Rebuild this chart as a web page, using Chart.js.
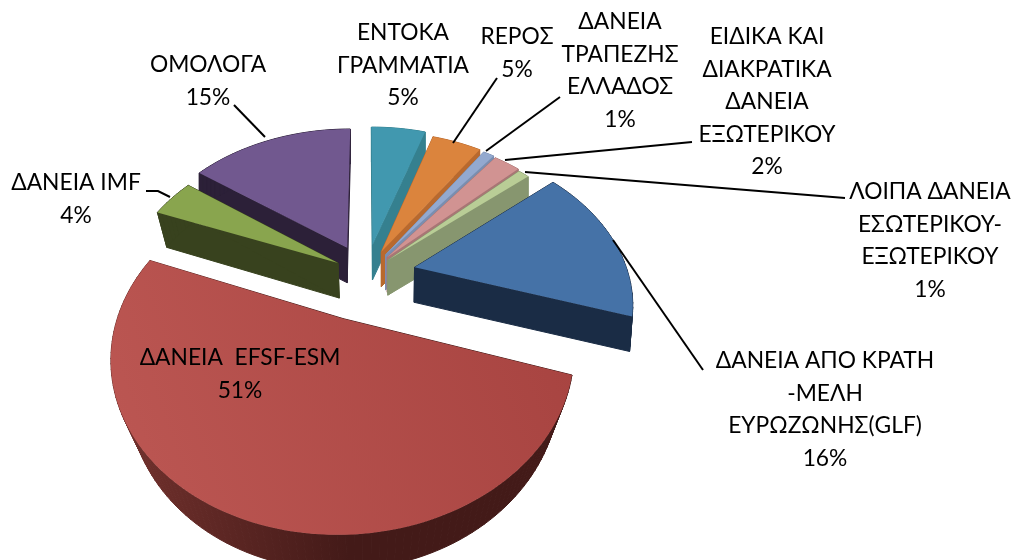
<!DOCTYPE html>
<html>
<head>
<meta charset="utf-8">
<style>
  html, body { margin: 0; padding: 0; background: #fff; }
  canvas { display: block; }
</style>
<script src="https://cdn.jsdelivr.net/npm/chart.js@4"></script>
</head>
<body>
<canvas id="debt-chart" width="1011" height="560"></canvas>
<script>
const sliceNames = [
    ['ΕΝΤΟΚΑ', 'ΓΡΑΜΜΑΤΙΑ'],
    ['REPOΣ'],
    ['ΔΑΝΕΙΑ', 'ΤΡΑΠΕΖΗΣ', 'ΕΛΛΑΔΟΣ'],
    ['ΕΙΔΙΚΑ ΚΑΙ', 'ΔΙΑΚΡΑΤΙΚΑ', 'ΔΑΝΕΙΑ', 'ΕΞΩΤΕΡΙΚΟΥ'],
    ['ΛΟΙΠΑ ΔΑΝΕΙΑ', 'ΕΣΩΤΕΡΙΚΟΥ-', 'ΕΞΩΤΕΡΙΚΟΥ'],
    ['ΔΑΝΕΙΑ ΑΠΟ ΚΡΑΤΗ', '-ΜΕΛΗ', 'ΕΥΡΩΖΩΝΗΣ(GLF)'],
    ['ΔΑΝΕΙΑ  EFSF-ESM'],
    ['ΔΑΝΕΙΑ IMF'],
    ['ΟΜΟΛΟΓΑ']
];
// the labels show them rounded
const shares = [5, 4.5, 1, 2.4, 1, 16.1, 51, 4, 15];

const topColors = ['#4198af', '#db843d', '#93a9cf', '#d19392', '#b9cd96', '#4572a7', '#aa4643', '#89a54e', '#71588f'];
const wallColors = ['#35808f', '#b8692e', '#7a8eb0', '#a87675', '#87966f', '#1a2c45', '#431a18', '#38421e', '#2c2038'];
const wallTaper = [0, 0, 0, 0, 0, 0.01, 0.07, 0.045, 0];
const explode = [49, 41, 39, 37, 34, 57, 72, 37, 49];
const drawOrder = [8, 0, 1, 2, 3, 4, 7, 5, 6];

// label centre x, first line y, then leader line (label end -> slice)
const labelSpots = [
    { x: 403, y: 33 },
    { x: 517, y: 37, line: [[497, 78], [453, 143]] },
    { x: 620, y: 22, line: [[560, 97], [486, 151]] },
    { x: 767, y: 37, line: [[692, 142], [505, 160]] },
    { x: 930, y: 192, line: [[845, 198], [525, 172]] },
    { x: 825, y: 361, line: [[703, 370], [613, 240]] },
    { x: 240, y: 358 },
    { x: 76, y: 183, line: [[146, 191], [158, 191], [170, 197]] },
    { x: 208, y: 65, line: [[265, 137], [234, 105]] }
];

// perspective of the pie floor
const view = { cx: 366, cy: 274, a: 213.6, b: 152, k: 0.2, depth: 35 };

function project(u, v) {
    const w = 1 - view.k * v;
    return { x: view.cx + view.a * u / w, y: view.cy + view.b * v / w };
}

function sliceOutline(arc) {
    const off = arc.options.offset / arc.outerRadius;
    const mid = (arc.startAngle + arc.endAngle) / 2;
    const du = Math.cos(mid) * off;
    const dv = Math.sin(mid) * off;
    const pts = [project(du, dv)];
    const steps = Math.max(2, Math.ceil((arc.endAngle - arc.startAngle) / 0.03));
    for (let s = 0; s <= steps; s++) {
        const a = arc.startAngle + (arc.endAngle - arc.startAngle) * s / steps;
        pts.push(project(Math.cos(a) + du, Math.sin(a) + dv));
    }
    return pts;
}

function fillPoly(ctx, pts, fill) {
    ctx.beginPath();
    pts.forEach((p, n) => n ? ctx.lineTo(p.x, p.y) : ctx.moveTo(p.x, p.y));
    ctx.closePath();
    ctx.fillStyle = fill;
    ctx.fill();
}

const pie3d = {
    id: 'pie3d',
    beforeDatasetsDraw(chart) {
        const ctx = chart.ctx;
        const arcs = chart.getDatasetMeta(0).data;
        drawOrder.forEach(i => {
            const pts = sliceOutline(arcs[i]);
            const floor = p => ({ x: p.x - (p.x - view.cx) * wallTaper[i], y: p.y + view.depth });
            let wall = wallColors[i];
            let top = topColors[i];
            if (i === 6) { // the big slice has a visible light falloff
                wall = ctx.createLinearGradient(110, 0, 350, 0);
                wall.addColorStop(0, '#74322e');
                wall.addColorStop(1, wallColors[i]);
                top = ctx.createLinearGradient(130, 480, 560, 330);
                top.addColorStop(0, '#bb5652');
                top.addColorStop(1, '#a84441');
            }
            for (let n = 0; n < pts.length; n++) {
                const p = pts[n];
                const q = pts[(n + 1) % pts.length];
                fillPoly(ctx, [p, q, floor(q), floor(p)], wall);
                ctx.strokeStyle = wall;
                ctx.lineWidth = 1;
                ctx.stroke();
            }
            fillPoly(ctx, pts, top);
        });
        return false;
    },
    afterDraw(chart) {
        const ctx = chart.ctx;
        ctx.save();
        ctx.strokeStyle = '#000';
        ctx.lineWidth = 2;
        labelSpots.forEach(spot => {
            if (!spot.line) return;
            ctx.beginPath();
            spot.line.forEach((p, n) => n ? ctx.lineTo(p[0], p[1]) : ctx.moveTo(p[0], p[1]));
            ctx.stroke();
        });
        ctx.fillStyle = '#000';
        ctx.font = '22.8px Lato, "Open Sans", sans-serif';
        ctx.textAlign = 'center';
        ctx.textBaseline = 'middle';
        sliceNames.forEach((name, i) => {
            const lines = name.concat(Math.round(shares[i]) + '%');
            lines.forEach((t, n) => ctx.fillText(t, labelSpots[i].x, labelSpots[i].y + n * 32.5));
        });
        ctx.restore();
    }
};

new Chart(document.getElementById('debt-chart').getContext('2d'), {
    type: 'pie',
    data: {
        labels: sliceNames.map(n => n.join(' ')),
        datasets: [{
            data: shares,
            backgroundColor: topColors,
            borderWidth: 0,
            offset: explode
        }]
    },
    options: {
        responsive: false,
        animation: false,
        plugins: { legend: { display: false }, tooltip: { enabled: false } }
    },
    plugins: [pie3d]
});
</script>
</body>
</html>
